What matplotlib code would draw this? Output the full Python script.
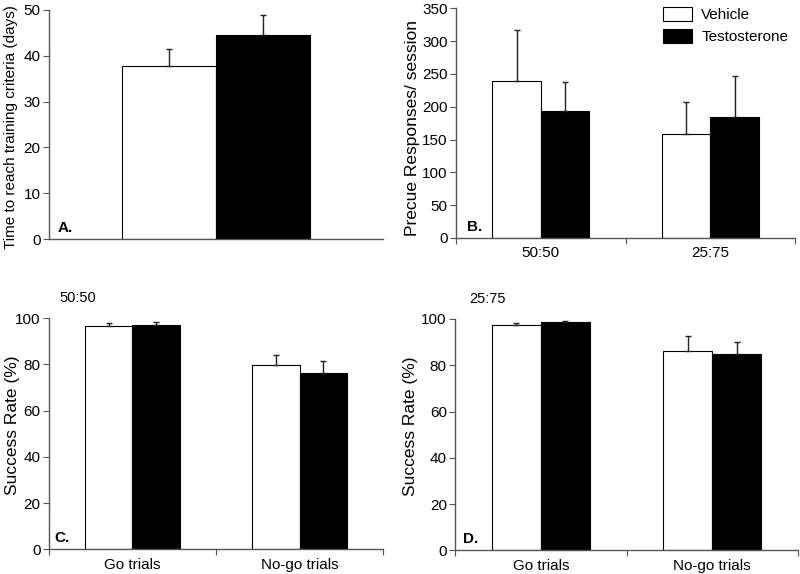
import matplotlib
matplotlib.use("Agg")
import matplotlib.pyplot as plt
import numpy as np
from matplotlib.patches import Patch

plt.rcParams['font.family'] = ['Liberation Sans', 'DejaVu Sans']

# Data
groups = ["Vehicle", "Testosterone"]
a_means = [37.8, 44.5]
a_errs = [3.7, 4.4]

b_cats = ["50:50", "25:75"]
b_vehicle = [240, 159]
b_vehicle_err = [77, 49]
b_testo = [193, 184]
b_testo_err = [45, 63]

cd_cats = ["Go trials", "No-go trials"]
c_vehicle = [96.8, 79.9]
c_vehicle_err = [1.0, 4.3]
c_testo = [97.0, 76.3]
c_testo_err = [1.4, 5.3]

d_vehicle = [97.4, 86.3]
d_vehicle_err = [1.0, 6.4]
d_testo = [98.6, 84.9]
d_testo_err = [0.5, 5.1]

fig = plt.figure(figsize=(8, 5.74), dpi=100)

spine_col = '#555555'
W = 0.285
CAP = 2.0

def style(ax):
    for s in ['top', 'right']:
        ax.spines[s].set_visible(False)
    for s in ['left', 'bottom']:
        ax.spines[s].set_color(spine_col)
        ax.spines[s].set_linewidth(1.0)
    ax.tick_params(axis='y', labelsize=11, length=4, color=spine_col, pad=2)

def bars(ax, x, vals, errs, color):
    ax.bar(x, vals, width=W, color=color, edgecolor='black', linewidth=0.8, zorder=2)
    ax.errorbar(x, vals, yerr=[np.zeros(len(vals)), errs], fmt='none',
                ecolor='#222222', elinewidth=1.0, capsize=CAP, capthick=1.0, zorder=3)

def grouped(ax, veh, veh_e, tes, tes_e, cats):
    n = len(cats)
    centers = np.arange(n) + 0.5
    bars(ax, centers - W / 2, veh, veh_e, 'white')
    bars(ax, centers + W / 2, tes, tes_e, 'black')
    ax.set_xlim(0, n)
    ax.set_xticks(np.arange(n + 1))
    ax.set_xticklabels([])
    ax.set_xticks(centers, minor=True)
    ax.set_xticklabels(cats, minor=True)
    ax.tick_params(axis='x', which='major', length=4, color=spine_col)
    ax.tick_params(axis='x', which='minor', length=0, labelsize=11, pad=6)

def ylab(ax, text, xpix, yfrac=0.5, fs=12.5):
    # xpix: right edge of the rotated label in figure pixels
    ax.set_ylabel(text, fontsize=fs)
    bbox = ax.get_position()
    x0 = bbox.x0 * 800
    w = bbox.width * 800
    ax.yaxis.set_label_coords((xpix - x0) / w, yfrac)

# Panel A
axA = fig.add_axes([0.061, 0.5836, 0.418, 0.399])
style(axA)
BWA = 0.28
xa = np.array([0.5 - BWA / 2, 0.5 + BWA / 2])
axA.bar(xa, a_means, width=BWA, color=['white', 'black'], edgecolor='black', linewidth=0.8, zorder=2)
axA.errorbar(xa, a_means, yerr=[np.zeros(2), a_errs], fmt='none', ecolor='#222222',
             elinewidth=1.0, capsize=CAP, capthick=1.0, zorder=3)
axA.set_xlim(0, 1)
axA.set_ylim(0, 50)
axA.set_yticks(range(0, 51, 10))
axA.set_xticks([])
ylab(axA, "Time to reach training criteria (days)", 18, 0.49, fs=11)
axA.text(0.027, 0.03, "A.", transform=axA.transAxes, fontsize=11, fontweight='bold')

# Panel B
axB = fig.add_axes([0.570, 0.5854, 0.424, 0.4])
style(axB)
grouped(axB, b_vehicle, b_vehicle_err, b_testo, b_testo_err, b_cats)
axB.set_ylim(0, 350)
axB.set_yticks(range(0, 351, 50))
ylab(axB, "Precue Responses/ session", 420, 0.477)
axB.text(0.032, 0.03, "B.", transform=axB.transAxes, fontsize=11, fontweight='bold')
handles = [Patch(facecolor='white', edgecolor='black', linewidth=0.8, label=groups[0]),
           Patch(facecolor='black', edgecolor='black', linewidth=0.8, label=groups[1])]
axB.legend(handles=handles, loc='upper right', bbox_to_anchor=(1.02, 1.065), frameon=False,
           fontsize=11, handlelength=1.9, handleheight=1.0, handletextpad=0.6, labelspacing=0.45)

# Panel C
axC = fig.add_axes([0.061, 0.043, 0.418, 0.4025])
style(axC)
grouped(axC, c_vehicle, c_vehicle_err, c_testo, c_testo_err, cd_cats)
axC.set_ylim(0, 100)
axC.set_yticks(range(0, 101, 20))
ylab(axC, "Success Rate (%)", 20, 0.536)
axC.text(0.018, 0.03, "C.", transform=axC.transAxes, fontsize=11, fontweight='bold')
axC.text(0.033, 1.07, "50:50", transform=axC.transAxes, fontsize=10.5)

# Panel D
axD = fig.add_axes([0.569, 0.0413, 0.4285, 0.403])
style(axD)
grouped(axD, d_vehicle, d_vehicle_err, d_testo, d_testo_err, cd_cats)
axD.set_ylim(0, 100)
axD.set_yticks(range(0, 101, 20))
ylab(axD, "Success Rate (%)", 418, 0.536)
axD.text(0.023, 0.03, "D.", transform=axD.transAxes, fontsize=11, fontweight='bold')
axD.text(0.04, 1.07, "25:75", transform=axD.transAxes, fontsize=10.5)

fig.savefig("out.png", dpi=100)
